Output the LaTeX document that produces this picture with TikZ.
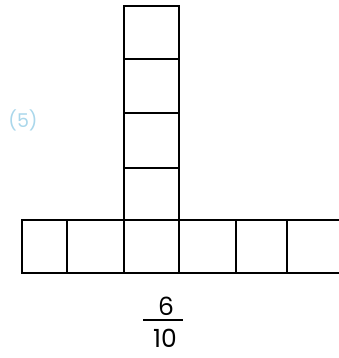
\documentclass[tikz,border=0pt]{standalone}
\usepackage{fontspec}
\setsansfont{Poppins}
\usepackage{xcolor}
\usetikzlibrary{positioning}
\definecolor{labelblue}{RGB}{170,215,235}
\tikzset{cell/.style={line width=2.8pt}}

\begin{document}
\begin{tikzpicture}[x=1pt,y=-1pt,font=\sffamily]
\useasboundingbox (0,0) rectangle (339,358);

% column
\draw[cell] (124,6) rectangle (179,220);
\foreach \y in {59,113,168} {
    \draw[cell] (124,\y) -- (179,\y);
}

% row
\draw[cell] (342,220) -- (22,220) -- (22,273) -- (342,273);
\foreach \x in {67,124,179,236,287} {
    \draw[cell] (\x,220) -- (\x,273);
}

\node[labelblue,font=\sffamily\fontsize{19}{19}\selectfont] (num) at (23,120) {(5)};
\node[font=\sffamily\fontsize{25}{25}\selectfont] (top) at (166,306) {6};
\node[font=\sffamily\fontsize{25}{25}\selectfont] (bot) at (165,338) {10};
\draw[line width=1.2pt] (143,320) -- (183,320);
\end{tikzpicture}
\end{document}
